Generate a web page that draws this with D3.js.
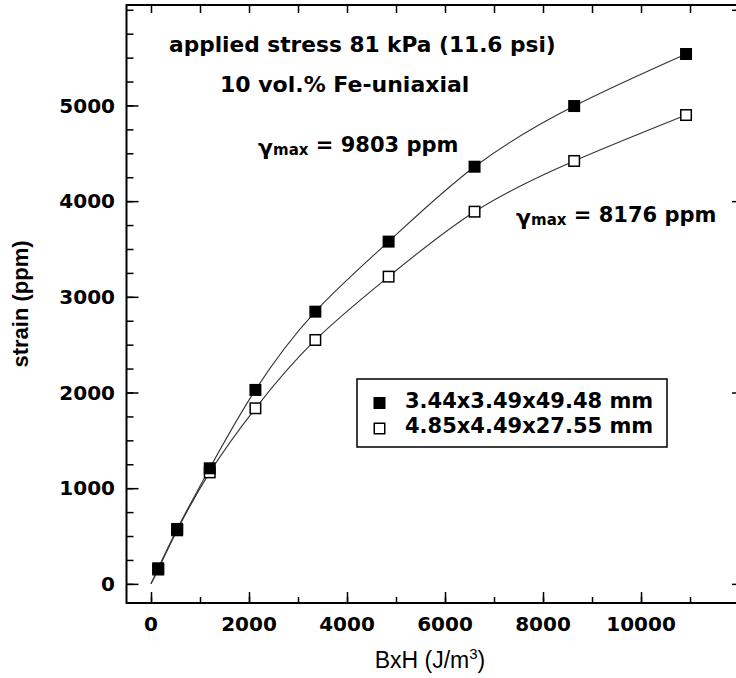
<!DOCTYPE html>
<html>
<head>
<meta charset="utf-8">
<script src="https://cdn.jsdelivr.net/npm/d3@7"></script>
<style>
  html, body { margin: 0; padding: 0; background: #fff; }
  svg { display: block; }
  text { font-family: "DejaVu Sans", Verdana, sans-serif; font-weight: bold; fill: #000; }
</style>
</head>
<body>
<svg id="chart" width="736" height="678"></svg>
<script>
// Magnetostrictive strain vs. magnetic energy density (BxH), two sample geometries
const energy = [147, 534, 1199, 2131, 3354, 4849, 6603, 8636, 10919];          // BxH, J/m^3
const strainSmall = [163, 574, 1208, 2027, 2845, 3577, 4360, 4994, 5538];      // 3.44x3.49x49.48 mm
const strainLarge = [150, 560, 1165, 1835, 2549, 3211, 3890, 4420, 4900];      // 4.85x4.49x27.55 mm
const seriesNames = ["3.44x3.49x49.48 mm", "4.85x4.49x27.55 mm"];
const gammaMax = ["9803 ppm", "8176 ppm"];
const xTickValues = [0, 2000, 4000, 6000, 8000, 10000];
const yTickValues = [0, 1000, 2000, 3000, 4000, 5000];
const titleLines = ["applied stress 81 kPa (11.6 psi)", "10 vol.% Fe-uniaxial"];

const svg = d3.select("#chart");
const plot = { left: 126.5, right: 740, top: 5, bottom: 603 };

const x = d3.scaleLinear().domain([-500, 12000]).range([plot.left, plot.left + (plot.right - plot.left) * 12500 / 12520]);
const y = d3.scaleLinear().domain([-200, 6050]).range([plot.bottom, plot.top]);

// frame
svg.append("rect")
  .attr("x", plot.left).attr("y", plot.top)
  .attr("width", plot.right - plot.left).attr("height", plot.bottom - plot.top)
  .attr("fill", "none").attr("stroke", "#000").attr("stroke-width", 2);

// left axis: minor every 250, major every 1000, ticks pointing inward
const leftMinor = d3.axisRight(y).tickValues(d3.range(0, 6001, 250)).tickSize(7).tickFormat("");
svg.append("g").attr("transform", `translate(${plot.left},0)`).call(leftMinor)
  .call(g => g.select(".domain").remove());
const leftMajor = d3.axisRight(y).tickValues(yTickValues).tickSize(12).tickFormat("");
svg.append("g").attr("transform", `translate(${plot.left},0)`).call(leftMajor)
  .call(g => g.select(".domain").remove());
svg.append("g").attr("class", "ylabels")
  .selectAll("text").data(yTickValues).join("text")
  .attr("x", 115).attr("y", d => y(d)).attr("dy", "0.36em")
  .attr("text-anchor", "end").attr("font-size", 20)
  .text(d => d);

// right axis
const rightAxis = d3.axisLeft(y).tickValues([0, 2000, 4000, 6000]).tickSize(8).tickFormat("");
svg.append("g").attr("transform", `translate(${plot.right},0)`).call(rightAxis)
  .call(g => g.select(".domain").remove());

// bottom axis: minor every 1000, major every 2000
const bottomMinor = d3.axisTop(x).tickValues(d3.range(0, 12001, 1000)).tickSize(6).tickFormat("");
svg.append("g").attr("transform", `translate(0,${plot.bottom})`).call(bottomMinor)
  .call(g => g.select(".domain").remove());
const bottomMajor = d3.axisTop(x).tickValues(xTickValues).tickSize(11).tickFormat("");
svg.append("g").attr("transform", `translate(0,${plot.bottom})`).call(bottomMajor)
  .call(g => g.select(".domain").remove());
svg.append("g").attr("class", "xlabels")
  .selectAll("text").data(xTickValues).join("text")
  .attr("x", d => x(d)).attr("y", 631)
  .attr("text-anchor", "middle").attr("font-size", 20)
  .text(d => d);

// top axis
const topAxis = d3.axisBottom(x).tickValues(d3.range(0, 12001, 1000)).tickSize(8).tickFormat("");
svg.append("g").attr("transform", `translate(0,${plot.top})`).call(topAxis)
  .call(g => g.select(".domain").remove());

svg.selectAll(".tick line").attr("stroke", "#000").attr("stroke-width", 1.5);

// axis titles
svg.append("text")
  .attr("x", 430).attr("y", 668)
  .attr("text-anchor", "middle").attr("font-size", 23)
  .style("font-family", "'Liberation Sans', Arial, sans-serif")
  .style("font-weight", "normal")
  .call(t => {
    t.append("tspan").text("BxH (J/m");
    t.append("tspan").attr("font-size", 15).attr("dy", -9).text("3");
    t.append("tspan").attr("dy", 9).text(")");
  });
svg.append("text")
  .attr("transform", `translate(28,${(plot.top + plot.bottom) / 2}) rotate(-90)`)
  .attr("text-anchor", "middle").attr("font-size", 22)
  .style("font-family", "'Liberation Sans', Arial, sans-serif")
  .text("strain (ppm)");

// fitted curves from the origin through the measured points
const origin = [0, 0];
const line = d3.line().x(d => x(d[0])).y(d => y(d[1])).curve(d3.curveNatural);
const seriesData = [strainSmall, strainLarge].map(vals => energy.map((e, i) => [e, vals[i]]));
seriesData.forEach(pts => {
  svg.append("path")
    .attr("d", line([origin, ...pts]))
    .attr("fill", "none").attr("stroke", "#333").attr("stroke-width", 1.1);
});

// markers: open squares first, filled on top
const s = 12;
svg.append("g").selectAll("rect").data(seriesData[1]).join("rect")
  .attr("x", d => x(d[0]) - s / 2 + 0.75).attr("y", d => y(d[1]) - s / 2 + 0.75)
  .attr("width", s - 1.5).attr("height", s - 1.5)
  .attr("fill", "#fff").attr("stroke", "#000").attr("stroke-width", 1.5);
svg.append("g").selectAll("rect").data(seriesData[0]).join("rect")
  .attr("x", d => x(d[0]) - s / 2).attr("y", d => y(d[1]) - s / 2)
  .attr("width", s).attr("height", s)
  .attr("fill", "#000");

// annotation text
svg.append("text").attr("x", 169).attr("y", 52).attr("font-size", 21.7).text(titleLines[0]);
svg.append("text").attr("x", 220).attr("y", 92).attr("font-size", 22).text(titleLines[1]);

function gammaLabel(xPos, yPos, value) {
  const t = svg.append("text").attr("x", xPos).attr("y", yPos).attr("font-size", 21);
  t.append("tspan").attr("font-size", 22).attr("dy", 3).text("γ");
  t.append("tspan").attr("font-size", 15).text("max");
  t.append("tspan").attr("dy", -3).text(" = " + value);
}
gammaLabel(258, 152, gammaMax[0]);
gammaLabel(516, 222, gammaMax[1]);

// legend
const lg = svg.append("g");
lg.append("rect").attr("x", 357).attr("y", 379).attr("width", 310).attr("height", 68)
  .attr("fill", "#fff").attr("stroke", "#000").attr("stroke-width", 1.5);
lg.append("rect").attr("x", 379.5 - 6).attr("y", 403 - 6).attr("width", 12).attr("height", 12).attr("fill", "#000");
lg.append("rect").attr("x", 379.5 - 5.25).attr("y", 428.5 - 5.25).attr("width", 10.5).attr("height", 10.5)
  .attr("fill", "#fff").attr("stroke", "#000").attr("stroke-width", 1.5);
lg.append("text").attr("x", 405).attr("y", 408).attr("font-size", 21).text(seriesNames[0]);
lg.append("text").attr("x", 405).attr("y", 433).attr("font-size", 21).text(seriesNames[1]);
</script>
</body>
</html>
